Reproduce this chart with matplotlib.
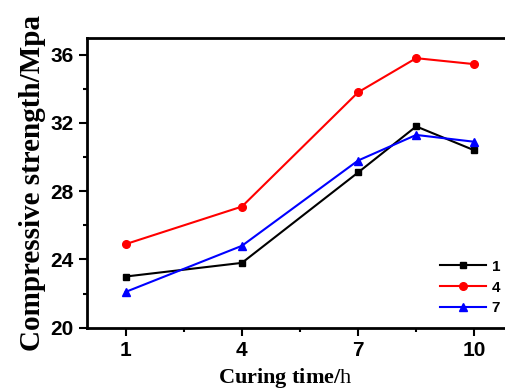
import matplotlib
matplotlib.use("Agg")
import matplotlib.pyplot as plt
from matplotlib.ticker import FixedLocator, MultipleLocator

plt.rcParams["mathtext.fontset"] = "custom"
plt.rcParams["mathtext.rm"] = "Liberation Serif"

# curing time (h) and compressive strength (MPa) for three mixes
curing_time = [1, 4, 7, 8.5, 10]
strength_1 = [23.0, 23.8, 29.1, 31.8, 30.4]
strength_4 = [24.9, 27.1, 33.8, 35.8, 35.45]
strength_7 = [22.1, 24.8, 29.8, 31.3, 30.9]
series_labels = ["1", "4", "7"]
x_ticks = [1, 4, 7, 10]
y_ticks = [20, 24, 28, 32, 36]

fig = plt.figure(figsize=(5.06, 3.89), dpi=100)
# axes run slightly past the right edge, like the cropped original
ax = fig.add_axes([87 / 506, 1 - 327.7 / 389, 426 / 506, 290 / 389])

ax.plot(curing_time, strength_1, "s-", color="black", lw=1.5, ms=5, label=series_labels[0])
ax.plot(curing_time, strength_4, "o-", color="red", lw=1.5, ms=5.5, label=series_labels[1])
ax.plot(curing_time, strength_7, "^-", color="blue", lw=1.5, ms=5.5, label=series_labels[2])

ax.set_xlim(0, 11)
ax.set_ylim(20, 37)
ax.set_xticks(x_ticks)
ax.set_yticks(y_ticks)
ax.xaxis.set_minor_locator(FixedLocator([2.5, 5.5, 8.5]))
ax.yaxis.set_minor_locator(MultipleLocator(2))
ax.tick_params(which="major", direction="out", length=6, width=1.5, labelsize=15)
ax.tick_params(which="minor", direction="out", length=3, width=1.5)
for lab in ax.get_xticklabels() + ax.get_yticklabels():
    lab.set_fontweight("bold")
    lab.set_family("Liberation Sans")
for sp in ax.spines.values():
    sp.set_linewidth(2)

ax.set_ylabel("Compressive strength/Mpa", family="Liberation Serif",
              fontweight="bold", fontsize=21, labelpad=3)
fig.text(285 / 506, 1 - 378 / 389, r"Curing time/$\mathrm{h}$", family="Liberation Serif",
         fontweight="bold", fontsize=16, ha="center", va="center")

leg = ax.legend(loc="lower right", bbox_to_anchor=((514 - 87) / 426, -0.005), frameon=False,
                handlelength=3, labelspacing=0.45, handletextpad=0.4,
                prop={"family": "Liberation Sans", "weight": "bold", "size": 11})

fig.savefig("out.png", dpi=100)
